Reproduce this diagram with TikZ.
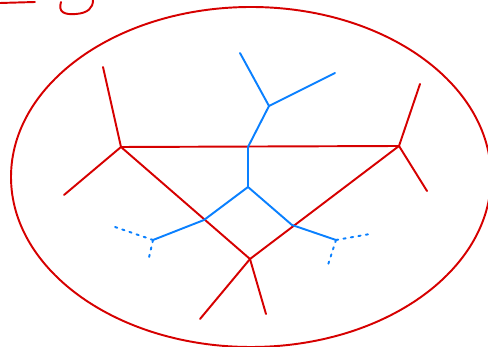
\documentclass[tikz,border=0pt]{standalone}
\usepackage{xcolor}
\usepackage{tikz}
\usetikzlibrary{calc,positioning}

\definecolor{treered}{RGB}{214,0,0}
\definecolor{treeblue}{RGB}{10,128,255}

\begin{document}
\begin{tikzpicture}[x=0.02cm, y=-0.02cm,
    redline/.style={line width=1.1pt, treered, line cap=round, line join=round},
    blueline/.style={line width=1.1pt, treeblue, line cap=round, line join=round},
    bluedots/.style={blueline, dash pattern=on 1.3pt off 3pt}]

    \useasboundingbox (0,0) rectangle (488,347);

    % Scribbles at the top
    \draw[redline] (0,3) -- (35,2);
    \draw[redline] (61,2) .. controls (58,12) and (64,15) .. (76,14)
        .. controls (88,13) and (93,8) .. (93,0);

    % Ellipse
    \begin{scope}
        \clip (0,0) rectangle (488,347);
        \draw[redline] (251,177) ellipse (240 and 170);
    \end{scope}

    % Red tree
    \coordinate (A) at (121,147);
    \coordinate (B) at (399,146);
    \coordinate (C) at (250,259);
    \coordinate (A1) at (103,67);
    \coordinate (A2) at (64,195);
    \coordinate (B1) at (420,84);
    \coordinate (B2) at (427,191);
    \coordinate (C1) at (200,319);
    \coordinate (C2) at (266,314);

    \draw[redline] (A) -- (B) -- (C) -- cycle;
    \foreach \v/\e in {A/A1, A/A2, B/B1, B/B2, C/C1, C/C2} {
        \draw[redline] (\v) -- (\e);
    }

    % Blue tree
    \coordinate (T) at (269,106);
    \coordinate (T1) at (240,53);
    \coordinate (T2) at (335,73);
    \coordinate (M) at (248,147);
    \coordinate (D) at (248,187);
    \coordinate (L) at (204,220);
    \coordinate (R) at (292,225);
    \coordinate (LL) at (153,240);
    \coordinate (RR) at (336,240);
    \coordinate (LL1) at (115,227);
    \coordinate (LL2) at (148,262);
    \coordinate (RR1) at (370,234);
    \coordinate (RR2) at (328,265);

    \draw[blueline] (T1) -- (T) -- (T2);
    \draw[blueline] (T) -- (M) -- (D);
    \draw[blueline] (LL) -- (L) -- (D) -- (R) -- (RR);
    \foreach \v/\e in {LL/LL1, LL/LL2, RR/RR1, RR/RR2} {
        \draw[bluedots] (\v) -- (\e);
    }
\end{tikzpicture}
\end{document}
